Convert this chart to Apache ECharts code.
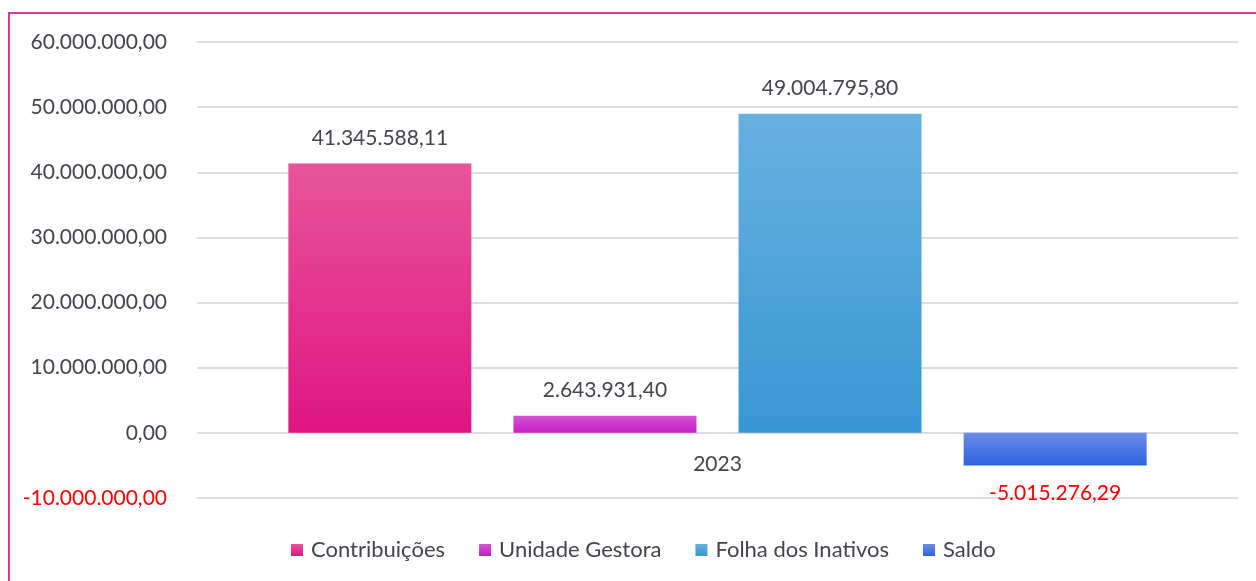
<!DOCTYPE html>
<html>
<head>
<meta charset="utf-8">
<script src="https://cdn.jsdelivr.net/npm/echarts@6/dist/echarts.min.js"></script>
<style>
html,body{margin:0;padding:0;background:#fff;overflow:hidden;}
#frame{position:absolute;left:8px;top:12px;width:2000px;height:2000px;border-top:2px solid #E8348F;border-left:2px solid #E8348F;box-sizing:border-box;}
#chart{position:absolute;left:0;top:0;width:1256px;height:581px;}
</style>
</head>
<body>
<div id="frame"></div>
<div id="chart"></div>
<script>
const categories = ['2023'];
const seriesNames = ['Contribuições', 'Unidade Gestora', 'Folha dos Inativos', 'Saldo'];
const contribuicoes = [41345588.11];
const unidadeGestora = [2643931.40];
const folhaInativos = [49004795.80];
const saldo = [-5015276.29];
const yMin = -10000000, yMax = 60000000, yStep = 10000000;

function fmtBR(v) {
  const neg = v < 0;
  const a = Math.abs(v);
  const parts = a.toFixed(2).split('.');
  const intPart = parts[0].replace(/\B(?=(\d{3})+(?!\d))/g, '.');
  return (neg ? '-' : '') + intPart + ',' + parts[1];
}

function grad(top, bottom) {
  return new echarts.graphic.LinearGradient(0, 0, 0, 1, [
    {offset: 0, color: top}, {offset: 1, color: bottom}
  ]);
}

const FONT = 'Lato';
const TXT = '#44444E';

const chart = echarts.init(document.getElementById('chart'), null, {renderer: 'canvas'});
const labelBase = {show: true, fontFamily: FONT, fontSize: 21, color: TXT, formatter: p => fmtBR(p.value)};

chart.setOption({
  animation: false,
  backgroundColor: 'transparent',
  grid: {left: 197, right: 18, top: 42, bottom: 83, containLabel: false},
  legend: {
    top: 534, left: 286, itemWidth: 12, itemHeight: 12, itemGap: 34,
    icon: 'rect',
    textStyle: {fontFamily: FONT, fontSize: 22, color: TXT, padding: [0, 0, 0, 3]},
    data: seriesNames
  },
  xAxis: {
    type: 'category', data: categories,
    offset: -65,
    axisLine: {show: false, onZero: false},
    axisTick: {show: false},
    axisLabel: {fontFamily: FONT, fontSize: 21, color: TXT, margin: 21}
  },
  yAxis: {
    type: 'value', min: yMin, max: yMax, interval: yStep,
    axisLine: {show: false}, axisTick: {show: false},
    splitLine: {lineStyle: {color: '#DCDCE2', width: 2}},
    axisLabel: {
      fontFamily: FONT, fontSize: 21, margin: 30,
      formatter: v => fmtBR(v),
      color: v => (v < 0 ? '#FF0000' : TXT)
    }
  },
  series: [
    {name: seriesNames[0], type: 'bar', data: contribuicoes, barWidth: 183, barGap: '23%',
     itemStyle: {color: grad('#E8549B', '#DF1582')},
     label: Object.assign({}, labelBase, {position: 'top', distance: 15})},
    {name: seriesNames[1], type: 'bar', data: unidadeGestora, barWidth: 183, barGap: '23%',
     itemStyle: {color: grad('#D255D2', '#C81CC8')},
     label: Object.assign({}, labelBase, {position: 'top', distance: 15})},
    {name: seriesNames[2], type: 'bar', data: folhaInativos, barWidth: 183, barGap: '23%',
     itemStyle: {color: grad('#67B1E1', '#3896D3')},
     label: Object.assign({}, labelBase, {position: 'top', distance: 15})},
    {name: seriesNames[3], type: 'bar', data: saldo, barWidth: 183, barGap: '23%',
     itemStyle: {color: grad('#6A8DEA', '#2E62DE')},
     label: Object.assign({}, labelBase, {position: 'bottom', distance: 17, color: '#FF0000'})}
  ]
});
</script>
</body>
</html>
